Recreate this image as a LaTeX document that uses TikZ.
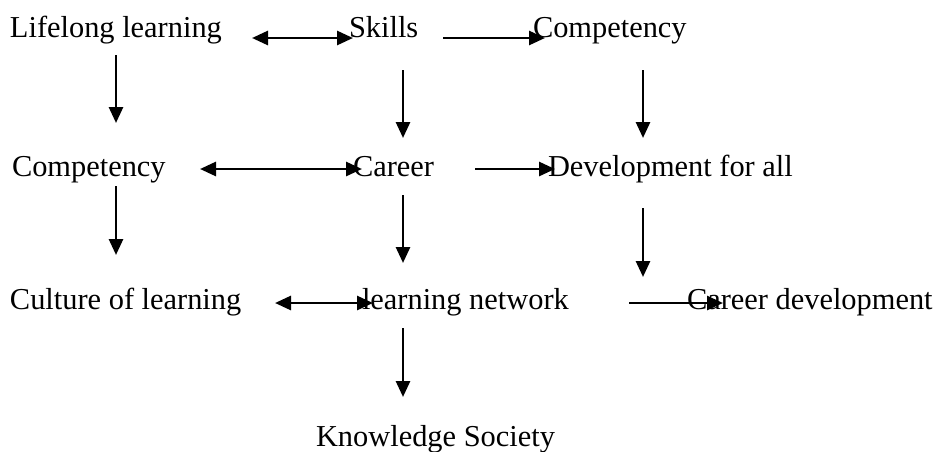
\documentclass[tikz,border=0pt]{standalone}
\usepackage{fontspec}
\setmainfont{Liberation Serif}
\usetikzlibrary{arrows.meta}

\begin{document}
\begin{tikzpicture}[x=0.5pt, y=-0.5pt,
      lbl/.style={anchor=base west, inner sep=0pt, outer sep=0pt,
        font=\fontsize{15.2pt}{18pt}\selectfont},
      arr/.style={line width=1.4pt, -{Triangle[length=8pt,width=7pt]}},
      darr/.style={line width=1.4pt, {Triangle[length=8pt,width=7pt]}-{Triangle[length=8pt,width=7pt]}}]
      \useasboundingbox (0,0) rectangle (940,451);
      \node[lbl] (lifelong) at (10,37)  {Lifelong learning};
      \node[lbl] (skills)   at (349,37) {Skills};
      \node[lbl] (compA)    at (533,37) {Competency};
      \node[lbl] (compB)    at (12,176) {Competency};
      \node[lbl] (career)   at (353,176) {Career};
      \node[lbl] (devall)   at (548,176) {Development for all};
      \node[lbl] (culture)  at (10,309) {Culture of learning};
      \node[lbl] (lnet)     at (362,309) {learning network};
      \node[lbl] (cardev)   at (687,309) {Career development};
      \node[lbl] (knowsoc)  at (316,446) {Knowledge Society};
      \foreach \n/\xa/\ya/\xb/\yb in {a/252/38/353/38, b/443/38/545/38,
          c/116/55/116/123, d/403/70/403/138, e/643/70/643/138,
          f/200/169/362/169, g/475/169/555/169,
          h/116/186/116/255, i/403/195/403/263, j/643/208/643/277,
          k/275/303/373/303, l/629/303/723/303, m/403/328/403/397}
        {\coordinate (\n1) at (\xa,\ya); \coordinate (\n2) at (\xb,\yb);}
      \draw[darr] (a1) -- (a2);
      \draw[arr]  (b1) -- (b2);
      \draw[arr]  (c1) -- (c2);
      \draw[arr]  (d1) -- (d2);
      \draw[arr]  (e1) -- (e2);
      \draw[darr] (f1) -- (f2);
      \draw[arr]  (g1) -- (g2);
      \draw[arr]  (h1) -- (h2);
      \draw[arr]  (i1) -- (i2);
      \draw[arr]  (j1) -- (j2);
      \draw[darr] (k1) -- (k2);
      \draw[arr]  (l1) -- (l2);
      \draw[arr]  (m1) -- (m2);
    \end{tikzpicture}
\end{document}
